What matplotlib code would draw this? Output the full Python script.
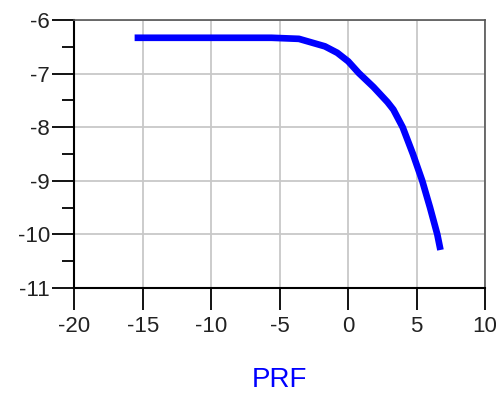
import matplotlib
matplotlib.use("Agg")
import matplotlib.pyplot as plt
from matplotlib.ticker import MultipleLocator

# input power sweep (dBm) and measured response
prf = [-15.6, -13.0, -10.0, -7.5, -5.6, -3.6, -1.7, -0.8, 0.0, 0.78, 1.85, 2.87, 3.3, 3.98,
       4.73, 5.41, 5.98, 6.51, 6.74]
response = [-6.33, -6.33, -6.33, -6.33, -6.33, -6.35, -6.49, -6.61, -6.77, -6.99, -7.25, -7.53, -7.67, -8.0,
            -8.5, -9.0, -9.5, -10.0, -10.29]

x_ticks = [-20, -15, -10, -5, 0, 5, 10]
y_ticks = [-11, -10, -9, -8, -7, -6]

plt.rcParams["font.family"] = ["Liberation Sans", "DejaVu Sans"]
plt.rcParams["axes.unicode_minus"] = False

fig = plt.figure(figsize=(4.96, 3.94), dpi=100)
ax = fig.add_axes([0.150, 0.269, 0.828, 0.680])

ax.plot(prf, response, color="#0000ff", linewidth=4.8, solid_capstyle="butt",
        solid_joinstyle="round", zorder=3)

ax.set_xlim(-20, 10)
ax.set_ylim(-11, -6)
ax.set_xticks(x_ticks)
ax.set_yticks(y_ticks)
ax.yaxis.set_minor_locator(MultipleLocator(0.5))
ax.grid(True, which="major", color="#c8c8c8", linewidth=1.3)

ax.tick_params(axis="both", which="major", direction="out", length=16, width=1.3,
               labelsize=16, color="black", labelcolor="#222222")
ax.tick_params(axis="x", pad=4)
ax.tick_params(axis="y", pad=1.5)
ax.tick_params(axis="y", which="minor", direction="out", length=8.5, width=1.3, color="black")

for side in ["left", "bottom"]:
    ax.spines[side].set_color("black")
    ax.spines[side].set_linewidth(1.5)
for side in ["top", "right"]:
    ax.spines[side].set_color("#555555")
    ax.spines[side].set_linewidth(1.2)

ax.set_xlabel("PRF", color="#0000ff", fontsize=20, labelpad=22)

fig.savefig("out.png", dpi=100)
